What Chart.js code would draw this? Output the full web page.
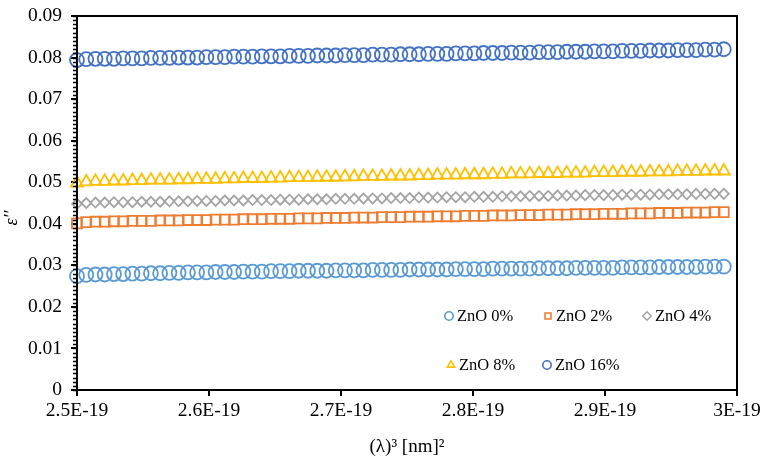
<!DOCTYPE html>
<html>
<head>
<meta charset="utf-8">
<script src="https://cdn.jsdelivr.net/npm/chart.js@4/dist/chart.umd.min.js"></script>
<style>
  html, body { margin: 0; padding: 0; background: #fff; }
  #wrap { width: 764px; height: 462px; }
</style>
</head>
<body>
<div id="wrap"><canvas id="chartEps"></canvas></div>
<script>
// x values in units of 1E-19
var xVals = [2.500, 2.507, 2.514, 2.521, 2.528, 2.535, 2.542, 2.549, 2.556, 2.563,
    2.570, 2.577, 2.584, 2.591, 2.598, 2.605, 2.612, 2.619, 2.626, 2.633,
    2.640, 2.647, 2.654, 2.661, 2.668, 2.675, 2.682, 2.689, 2.696, 2.703,
    2.710, 2.717, 2.724, 2.731, 2.738, 2.745, 2.752, 2.759, 2.766, 2.773,
    2.780, 2.787, 2.794, 2.801, 2.808, 2.815, 2.822, 2.829, 2.836, 2.843,
    2.850, 2.857, 2.864, 2.871, 2.878, 2.885, 2.892, 2.899, 2.906, 2.913,
    2.920, 2.927, 2.934, 2.941, 2.948, 2.955, 2.962, 2.969, 2.976, 2.983,
    2.990];

var zno0 = [0.0274, 0.0277, 0.0278, 0.0278, 0.0279, 0.0279, 0.0280, 0.0280, 0.0281, 0.0281,
    0.0282, 0.0282, 0.0283, 0.0283, 0.0283, 0.0284, 0.0284, 0.0284, 0.0285, 0.0285,
    0.0285, 0.0286, 0.0286, 0.0286, 0.0287, 0.0287, 0.0287, 0.0287, 0.0288, 0.0288,
    0.0288, 0.0288, 0.0289, 0.0289, 0.0289, 0.0289, 0.0290, 0.0290, 0.0290, 0.0290,
    0.0290, 0.0291, 0.0291, 0.0291, 0.0291, 0.0292, 0.0292, 0.0292, 0.0292, 0.0292,
    0.0293, 0.0293, 0.0293, 0.0293, 0.0294, 0.0294, 0.0294, 0.0294, 0.0294, 0.0295,
    0.0295, 0.0295, 0.0295, 0.0296, 0.0296, 0.0296, 0.0296, 0.0296, 0.0297, 0.0297,
    0.0297];

var zno2 = [0.0401, 0.0404, 0.0405, 0.0405, 0.0406, 0.0406, 0.0407, 0.0407, 0.0407, 0.0408,
    0.0408, 0.0408, 0.0409, 0.0409, 0.0409, 0.0410, 0.0410, 0.0410, 0.0411, 0.0411,
    0.0411, 0.0412, 0.0412, 0.0412, 0.0413, 0.0413, 0.0413, 0.0414, 0.0414, 0.0414,
    0.0415, 0.0415, 0.0415, 0.0416, 0.0416, 0.0416, 0.0417, 0.0417, 0.0417, 0.0418,
    0.0418, 0.0418, 0.0419, 0.0419, 0.0419, 0.0420, 0.0420, 0.0420, 0.0421, 0.0421,
    0.0421, 0.0422, 0.0422, 0.0422, 0.0423, 0.0423, 0.0423, 0.0424, 0.0424, 0.0424,
    0.0425, 0.0425, 0.0425, 0.0426, 0.0426, 0.0426, 0.0427, 0.0427, 0.0427, 0.0428,
    0.0428];

var zno4 = [0.0448, 0.0450, 0.0451, 0.0451, 0.0452, 0.0452, 0.0452, 0.0453, 0.0453, 0.0453,
    0.0454, 0.0454, 0.0454, 0.0455, 0.0455, 0.0455, 0.0456, 0.0456, 0.0456, 0.0457,
    0.0457, 0.0457, 0.0458, 0.0458, 0.0458, 0.0459, 0.0459, 0.0459, 0.0460, 0.0460,
    0.0460, 0.0461, 0.0461, 0.0461, 0.0462, 0.0462, 0.0462, 0.0463, 0.0463, 0.0463,
    0.0464, 0.0464, 0.0464, 0.0465, 0.0465, 0.0465, 0.0466, 0.0466, 0.0466, 0.0467,
    0.0467, 0.0467, 0.0468, 0.0468, 0.0468, 0.0469, 0.0469, 0.0469, 0.0469, 0.0470,
    0.0470, 0.0470, 0.0470, 0.0471, 0.0471, 0.0471, 0.0471, 0.0472, 0.0472, 0.0472,
    0.0472];

var zno8 = [0.0498, 0.0501, 0.0502, 0.0502, 0.0503, 0.0503, 0.0504, 0.0504, 0.0505, 0.0505,
    0.0505, 0.0506, 0.0506, 0.0507, 0.0507, 0.0507, 0.0508, 0.0508, 0.0509, 0.0509,
    0.0509, 0.0510, 0.0510, 0.0511, 0.0511, 0.0511, 0.0512, 0.0512, 0.0512, 0.0513,
    0.0513, 0.0514, 0.0514, 0.0514, 0.0515, 0.0515, 0.0515, 0.0516, 0.0516, 0.0517,
    0.0517, 0.0517, 0.0518, 0.0518, 0.0518, 0.0519, 0.0519, 0.0520, 0.0520, 0.0520,
    0.0521, 0.0521, 0.0521, 0.0522, 0.0522, 0.0522, 0.0523, 0.0523, 0.0523, 0.0524,
    0.0524, 0.0524, 0.0525, 0.0525, 0.0525, 0.0526, 0.0526, 0.0526, 0.0527, 0.0527,
    0.0527];

var zno16 = [0.0794, 0.0796, 0.0797, 0.0797, 0.0797, 0.0798, 0.0798, 0.0798, 0.0799, 0.0799,
    0.0799, 0.0800, 0.0800, 0.0800, 0.0801, 0.0801, 0.0801, 0.0802, 0.0802, 0.0802,
    0.0803, 0.0803, 0.0803, 0.0804, 0.0804, 0.0804, 0.0805, 0.0805, 0.0805, 0.0806,
    0.0806, 0.0806, 0.0807, 0.0807, 0.0807, 0.0808, 0.0808, 0.0808, 0.0809, 0.0809,
    0.0809, 0.0810, 0.0810, 0.0810, 0.0811, 0.0811, 0.0811, 0.0812, 0.0812, 0.0812,
    0.0813, 0.0813, 0.0813, 0.0814, 0.0814, 0.0814, 0.0815, 0.0815, 0.0815, 0.0816,
    0.0816, 0.0816, 0.0817, 0.0817, 0.0817, 0.0818, 0.0818, 0.0818, 0.0819, 0.0819,
    0.0820];

var seriesNames = ['ZnO 0%', 'ZnO 2%', 'ZnO 4%', 'ZnO 8%', 'ZnO 16%'];
var seriesData = [zno0, zno2, zno4, zno8, zno16];
var seriesColors = ['#5B9BD5', '#ED7D31', '#A5A5A5', '#FFC000', '#4472C4'];
var seriesShapes = ['circle', 'rect', 'rectRot', 'triangle', 'circle'];
var seriesRadius = [7, 7, 5, 7, 7];

var serif = '"Liberation Serif", "Times New Roman", serif';

function toPoints(arr) {
    return arr.map(function(v, i) { return { x: xVals[i], y: v }; });
}

var datasets = seriesNames.map(function(name, k) {
    return {
        label: name,
        data: toPoints(seriesData[k]),
        showLine: false,
        pointStyle: seriesShapes[k],
        pointRadius: seriesRadius[k],
        pointBorderWidth: 1.8,
        borderColor: seriesColors[k],
        backgroundColor: 'rgba(0,0,0,0)',
        pointBackgroundColor: 'rgba(0,0,0,0)',
        clip: false
    };
});

// frame, minor ticks, y title and legend inside the plot
var framePlugin = {
    id: 'frame',
    afterDraw: function(chart) {
        var ctx = chart.ctx, a = chart.chartArea, ys = chart.scales.y;
        ctx.save();
        ctx.strokeStyle = '#000';
        ctx.lineWidth = 2;
        ctx.strokeRect(a.left, a.top, a.right - a.left, a.bottom - a.top);
        // y minor ticks
        ctx.lineWidth = 1.5;
        ctx.beginPath();
        for (var i = 0; i <= 90; i++) {
            var yy = Math.round(ys.getPixelForValue(i / 1000)) + 0.5;
            ctx.moveTo(a.left - 4, yy);
            ctx.lineTo(a.left, yy);
        }
        ctx.stroke();

        // y axis title
        ctx.save();
        ctx.translate(12, 218);
        ctx.rotate(-Math.PI / 2);
        ctx.font = 'italic 18px ' + serif;
        ctx.textAlign = 'center';
        ctx.textBaseline = 'middle';
        ctx.fillStyle = '#000';
        ctx.fillText('ε′′', 0, 0);
        ctx.restore();

        // legend
        var spots = [[449, 316], [548, 316], [647, 316], [451, 365], [547, 365]];
        ctx.font = '16.5px ' + serif;
        ctx.textBaseline = 'middle';
        chart.data.datasets.forEach(function(ds, k) {
            var p = spots[k];
            ctx.strokeStyle = seriesColors[k];
            ctx.fillStyle = 'rgba(0,0,0,0)';
            ctx.lineWidth = 1.6;
            Chart.helpers.drawPoint(ctx, { pointStyle: seriesShapes[k], radius: 4.2, borderWidth: 1.6 }, p[0], p[1]);
            ctx.fillStyle = '#000';
            ctx.fillText(ds.label, p[0] + 8, p[1] + 1);
        });
        ctx.restore();
    }
};

var tickFont = { family: serif, size: 19.5 };

var ctx = document.getElementById('chartEps');
var myChart = new Chart(ctx, {
    type: 'scatter',
    data: { datasets: datasets },
    plugins: [framePlugin],
    options: {
        responsive: true,
        maintainAspectRatio: false,
        animation: false,
        layout: { padding: { top: 16, right: 27, left: 0, bottom: 0 } },
        plugins: {
            legend: { display: false },
            tooltip: { enabled: false }
        },
        scales: {
            x: {
                type: 'linear',
                min: 2.5,
                max: 3.0,
                afterFit: function(s) { s.height = 72; s.paddingRight = 0; s.paddingLeft = 0; },
                ticks: {
                    stepSize: 0.1,
                    color: '#000',
                    font: tickFont,
                    padding: 3,
                    maxRotation: 0,
                    callback: function(v) { return (Math.round(v * 10) / 10) + 'E-19'; }
                },
                grid: { drawOnChartArea: false, drawTicks: true, tickLength: 6, color: '#000', lineWidth: 2 },
                border: { color: '#000', width: 2 },
                title: {
                    display: true,
                    text: '(λ)³ [nm]²',
                    color: '#000',
                    font: { family: serif, size: 19 },
                    padding: { top: 0, bottom: 4 }
                }
            },
            y: {
                min: 0,
                max: 0.09,
                afterFit: function(s) { s.width = 77; s.paddingTop = 0; s.paddingBottom = 0; },
                ticks: {
                    stepSize: 0.01,
                    color: '#000',
                    font: tickFont,
                    padding: 9,
                    callback: function(v) { return String(Math.round(v * 100) / 100); }
                },
                grid: { drawOnChartArea: false, drawTicks: true, tickLength: 6, color: '#000', lineWidth: 2 },
                border: { color: '#000', width: 2 }
            }
        }
    }
});
</script>
</body>
</html>
